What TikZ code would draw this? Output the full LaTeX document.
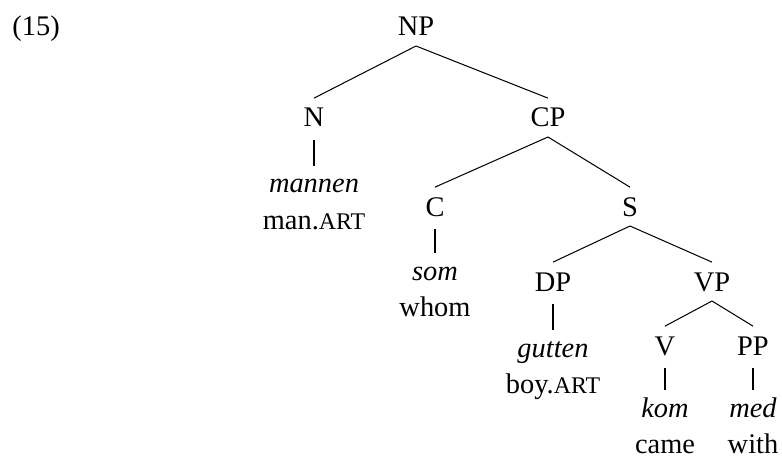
\documentclass[tikz,border=0pt]{standalone}
\usepackage{fontspec}
\setmainfont{Liberation Serif}
\usetikzlibrary{positioning}
\newcommand{\glossart}{{\fontsize{10.5}{11}\selectfont ART}}

\begin{document}
\begin{tikzpicture}[
    x=0.44pt, y=-0.44pt,
    font=\fontsize{12.5}{14}\selectfont,
    cat/.style={inner xsep=0pt, inner ysep=4.2pt, text height=8.3pt,
      text depth=0pt, anchor=base},
    word/.style={cat, font=\fontsize{12.5}{14}\selectfont\itshape},
    gloss/.style={inner sep=0pt, text height=8.3pt, text depth=0pt,
      below=7.4pt of #1.base},
    branch/.style={line width=0.45pt},
    unary/.style={branch, shorten <=1.2pt, shorten >=-0.8pt}
  ]
  \useasboundingbox (0,0) rectangle (782,457);

  % example number
  \node (exnum) [cat, anchor=base west] at (12,35) {(15)};

  % the categories
  \node (np) [cat] at (416,36)  {NP};
  \node (n)  [cat] at (314,127) {N};
  \node (cp) [cat] at (548,127) {CP};
  \node (c)  [cat] at (435,216) {C};
  \node (s)  [cat] at (630,216) {S};
  \node (dp) [cat] at (553,291) {DP};
  \node (vp) [cat] at (712,291) {VP};
  \node (v)  [cat] at (665,355) {V};
  \node (pp) [cat] at (753,355) {PP};

  % the words, with their glosses below
  \node (mannen) [word] at (314,193) {mannen};
  \node (manart) [gloss=mannen]      {man.\glossart};
  \node (som)    [word] at (435,280) {som};
  \node (whom)   [gloss=som]         {whom};
  \node (gutten) [word] at (553,357) {gutten};
  \node (boyart) [gloss=gutten]      {boy.\glossart};
  \node (kom)    [word] at (665,417) {kom};
  \node (came)   [gloss=kom]         {came};
  \node (med)    [word] at (753,417) {med};
  \node (with)   [gloss=med]         {with};

  \draw[branch] (np.south) -- (n.north);
  \draw[branch] (np.south) -- (cp.north);
  \draw[branch] (cp.south) -- (c.north);
  \draw[branch] (cp.south) -- (s.north);
  \draw[branch] (s.south)  -- (dp.north);
  \draw[branch] (s.south)  -- (vp.north);
  \draw[branch] (vp.south) -- (v.north);
  \draw[branch] (vp.south) -- (pp.north);

  \draw[unary] (n.south)  -- (mannen.north);
  \draw[unary] (c.south)  -- (som.north);
  \draw[unary] (dp.south) -- (gutten.north);
  \draw[unary] (v.south)  -- (kom.north);
  \draw[unary] (pp.south) -- (med.north);

\end{tikzpicture}
\end{document}
